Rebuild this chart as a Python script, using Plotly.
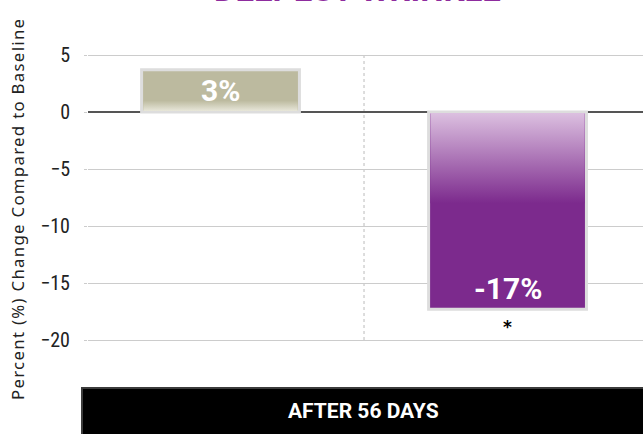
import plotly.graph_objects as go

# ---- data ----
categories = ["Placebo", "Treatment"]
values = [3.7, -17.3]
value_labels = ["3%", "-17%"]
significance = ["", "*"]
tick_values = [5, 0, -5, -10, -15, -20]
y_title = "Percent (%) Change Compared to Baseline"
chart_title = "DEEPEST WRINKLE"
period_label = "AFTER 56 DAYS"

# ---- styling ----
bar_colors = ["#bcba9f", "#7c2a8d"]
grad_light = ["#e8e7da", "#dcc0e0"]
grad_extent = [1.0, 8.0]          # depth of gradient from the baseline
bar_width = 0.55
W, H = 643, 434
px_per_unit = 11.4
zero_px = 112
ymax = zero_px / px_per_unit
ymin = ymax - H / px_per_unit
xmin, xmax = -0.4617, 1.472

cond_font = "Liberation Sans Narrow, Roboto Condensed, Roboto, sans-serif"
bold_font = "Roboto, Liberation Sans, sans-serif"

fig = go.Figure()

xs = list(range(len(categories)))
fig.add_trace(go.Bar(
    x=xs, y=values, width=bar_width,
    marker=dict(color=bar_colors, line=dict(color="#dddddd", width=3)),
    hoverinfo="skip", showlegend=False,
))

# gradient overlays near the baseline
inset = 0.006
for i, v in enumerate(values):
    sgn = 1 if v > 0 else -1
    depth = grad_extent[i] * sgn
    x0, x1 = i - bar_width / 2 + inset, i + bar_width / 2 - inset
    y0 = 0.08 * sgn
    fig.add_trace(go.Scatter(
        x=[x0, x1, x1, x0, x0], y=[y0, y0, depth, depth, y0],
        mode="none", fill="toself",
        fillgradient=dict(
            type="vertical",
            colorscale=([[0, grad_light[i]], [1, bar_colors[i]]] if sgn > 0
                        else [[0, bar_colors[i]], [1, grad_light[i]]]),
        ),
        hoverinfo="skip", showlegend=False,
    ))

annotations = []
for i, v in enumerate(values):
    sgn = 1 if v > 0 else -1
    annotations.append(dict(
        x=i, y=v, xref="x", yref="y", text=f"<b>{value_labels[i]}</b>",
        showarrow=False, yanchor="middle", yshift=-21 * sgn,
        font=dict(family=bold_font, size=30, color="white"),
    ))
    if significance[i]:
        annotations.append(dict(
            x=i, y=v, xref="x", yref="y", text=f"<b>{significance[i]}</b>",
            showarrow=False, yanchor="middle", yshift=18 * sgn,
            font=dict(family="DejaVu Sans", size=17, color="black"),
        ))

annotations.append(dict(
    x=0.486, y=0.975, xref="paper", yref="paper", text=f"<b>{chart_title}</b>",
    showarrow=False, yanchor="bottom",
    font=dict(family=bold_font, size=33, color="#8e2c9e"),
))
annotations.append(dict(
    x=(363 - 88) / 555, y=(434 - 411) / 434, xref="paper", yref="paper",
    text=f"<b>{period_label}</b>", showarrow=False, yanchor="middle",
    font=dict(family=bold_font, size=21, color="white"),
))
annotations.append(dict(
    x=(17 - 88) / 555, y=(434 - 209) / 434, xref="paper", yref="paper",
    text=f'<span style="letter-spacing:1.3px">{y_title}</span>',
    showarrow=False, textangle=-90,
    xanchor="center", yanchor="middle",
    font=dict(family="Noto Sans, Open Sans, sans-serif", size=16.8,
              color="#222222"),
))

shapes = [
    dict(type="line", xref="x", yref="y", x0=0.5, x1=0.5,
         y0=min(tick_values), y1=max(tick_values),
         line=dict(color="#bbbbbb", width=1, dash="dot"), layer="below"),
    dict(type="rect", xref="paper", yref="paper",
         x0=(82 - 88) / 555, x1=1.01, y0=-0.01, y1=(434 - 388) / 434,
         fillcolor="black", line=dict(color="#3c3c3c", width=2)),
]

fig.update_layout(
    width=W, height=H,
    margin=dict(l=88, r=0, t=0, b=0),
    paper_bgcolor="white", plot_bgcolor="white",
    barmode="overlay",
    showlegend=False,
    annotations=annotations,
    shapes=shapes,
    xaxis=dict(range=[xmin, xmax], showgrid=False, zeroline=False,
               showticklabels=False, ticks="", fixedrange=True),
    yaxis=dict(range=[ymin, ymax], tickvals=tick_values,
               showgrid=True, gridcolor="#cccccc", gridwidth=1,
               zeroline=True, zerolinecolor="#555555", zerolinewidth=1.5,
               ticks="outside", ticklen=3, tickcolor="#cccccc",
               tickfont=dict(family=cond_font, size=20, color="#222222"),
               ticklabelstandoff=10),
)

fig.write_html("out.html", config={"displayModeBar": False},
               post_script="document.body.style.margin='0px';")
